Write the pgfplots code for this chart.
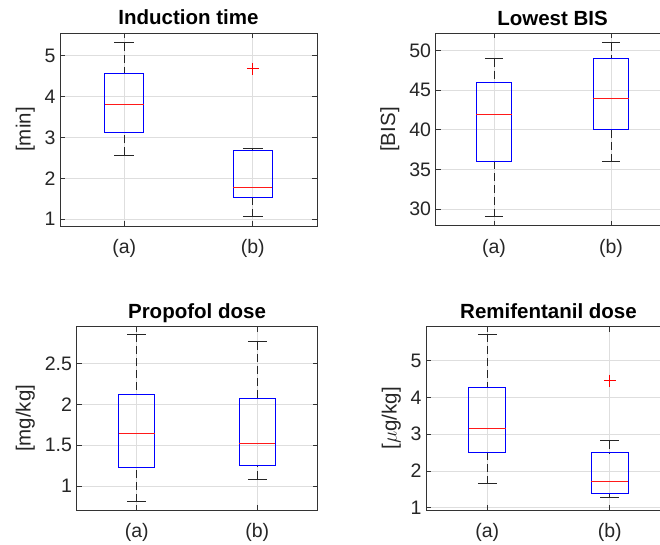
\documentclass[border=0pt]{standalone}
\usepackage{pgfplots}
\pgfplotsset{compat=1.18}
\usepgfplotslibrary{statistics}
\usepackage{fontspec}
\setmainfont{Liberation Sans}

\pgfplotsset{
 mybox/.style={
  scale only axis,
  anchor=south west,
  xmin=0.5, xmax=2.5,
  xtick={1,2}, xticklabels={(a),(b)},
  grid=major,
  major grid style={color=black!13, line width=0.8pt},
  axis line style={color=black!80, line width=0.8pt},
  every tick/.style={color=black!80, line width=0.8pt},
  major tick length=5pt,
  tick label style={font=\fontsize{19.5}{21}\selectfont, color=black!85},
  xticklabel style={yshift=-10pt},
  yticklabel style={xshift=-1pt},
  ylabel shift=3pt,
  label style={font=\fontsize{20.5}{23}\selectfont, color=black!85},
  title style={font=\fontsize{20.5}{23}\selectfont\bfseries, at={(0.5,1)}, anchor=base, yshift=2pt},
  /pgf/number format/assume math mode=true,
  boxplot/draw direction=y,
  boxplot/box extend=0.3,
  boxplot/whisker extend=0.155,
  boxplot/every box/.style={draw=blue, line width=1pt},
  boxplot/every median/.style={draw=red!90!white, line width=1pt},
  boxplot/every whisker/.style={draw=black!85, line width=1pt},
  boxplot/draw/lower whisker/.code={
    \draw[/pgfplots/boxplot/every whisker/.try, dash pattern=on 8pt off 4pt]
      (boxplot cs:\pgfplotsboxplotvalue{lower whisker}) -- (boxplot cs:\pgfplotsboxplotvalue{lower quartile});
    \draw[/pgfplots/boxplot/every whisker/.try]
      (boxplot whisker cs:\pgfplotsboxplotvalue{lower whisker},0) -- (boxplot whisker cs:\pgfplotsboxplotvalue{lower whisker},1);
  },
  boxplot/draw/upper whisker/.code={
    \draw[/pgfplots/boxplot/every whisker/.try, dash pattern=on 8pt off 4pt]
      (boxplot cs:\pgfplotsboxplotvalue{upper whisker}) -- (boxplot cs:\pgfplotsboxplotvalue{upper quartile});
    \draw[/pgfplots/boxplot/every whisker/.try]
      (boxplot whisker cs:\pgfplotsboxplotvalue{upper whisker},0) -- (boxplot whisker cs:\pgfplotsboxplotvalue{upper whisker},1);
  },
 },
 bp/.style={mark=+, mark size=6pt, mark options={red, solid, line width=1pt}},
}

\begin{document}
\begin{tikzpicture}
% Induction time
\begin{axis}[mybox, at={(60pt,319pt)}, width=257pt, height=193pt,
  ymin=0.83, ymax=5.56, ytick={1,2,3,4,5},
  title={Induction time}, ylabel={[min]}]
\addplot[bp, boxplot prepared={draw position=1, lower whisker=2.56, lower quartile=3.12, median=3.80, upper quartile=4.57, upper whisker=5.32}] coordinates {};
\addplot[bp, boxplot prepared={draw position=2, lower whisker=1.06, lower quartile=1.54, median=1.77, upper quartile=2.69, upper whisker=2.72}] coordinates {(0,4.68)};
\end{axis}
% Lowest BIS
\begin{axis}[mybox, at={(435.5pt,319.3pt)}, width=234pt, height=192.4pt,
  ymin=27.9, ymax=52.2, ytick={30,35,40,45,50},
  title={Lowest BIS}, ylabel={[BIS]}]
\addplot[bp, boxplot prepared={draw position=1, lower whisker=29, lower quartile=36, median=42, upper quartile=46, upper whisker=49}] coordinates {};
\addplot[bp, boxplot prepared={draw position=2, lower whisker=36, lower quartile=40, median=44, upper quartile=49, upper whisker=51}] coordinates {};
\end{axis}
% Propofol dose
\begin{axis}[mybox, at={(76.5pt,35pt)}, width=241pt, height=183.3pt,
  ymin=0.707, ymax=2.95, ytick={1,1.5,2,2.5},
  title={Propofol dose}, ylabel={[mg/kg]}]
\addplot[bp, boxplot prepared={draw position=1, lower whisker=0.81, lower quartile=1.23, median=1.64, upper quartile=2.125, upper whisker=2.855}] coordinates {};
\addplot[bp, boxplot prepared={draw position=2, lower whisker=1.086, lower quartile=1.249, median=1.526, upper quartile=2.072, upper whisker=2.764}] coordinates {};
\end{axis}
% Remifentanil dose
\begin{axis}[mybox, at={(426pt,35pt)}, width=245pt, height=183.3pt,
  ymin=0.937, ymax=5.93, ytick={1,2,3,4,5},
  title={Remifentanil dose}, ylabel={[$\mu$g/kg]}]
\addplot[bp, boxplot prepared={draw position=1, lower whisker=1.65, lower quartile=2.49, median=3.15, upper quartile=4.265, upper whisker=5.72}] coordinates {};
\addplot[bp, boxplot prepared={draw position=2, lower whisker=1.27, lower quartile=1.40, median=1.71, upper quartile=2.49, upper whisker=2.83}] coordinates {(0,4.46)};
\end{axis}
\pgfresetboundingbox
\useasboundingbox (0,0) rectangle (660pt,545pt);
\end{tikzpicture}
\end{document}
